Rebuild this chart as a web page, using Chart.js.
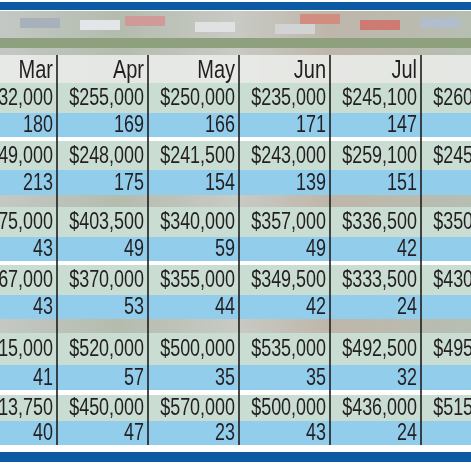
<!DOCTYPE html>
<html><head><meta charset="utf-8">
<script src="https://cdn.jsdelivr.net/npm/chart.js@4.4.1/dist/chart.umd.min.js"></script>
<style>html,body{margin:0;padding:0;background:#fff}#c{display:block}</style>
</head><body>
<div style="width:471px;height:471px"><canvas id="c"></canvas></div>
<script>
const months = ["Mar","Apr","May","Jun","Jul","Aug"];
const price1 = [232000,255000,250000,235000,245100,260000];
const count1 = [180,169,166,171,147,160];
const price2 = [249000,248000,241500,243000,259100,245000];
const count2 = [213,175,154,139,151,150];
const price3 = [375000,403500,340000,357000,336500,350000];
const count3 = [43,49,59,49,42,45];
const price4 = [367000,370000,355000,349500,333500,430000];
const count4 = [43,53,44,42,24,30];
const price5 = [515000,520000,500000,535000,492500,495000];
const count5 = [41,57,35,35,32,30];
const price6 = [513750,450000,570000,500000,436000,515000];
const count6 = [40,47,23,43,24,30];
const prices = [price1,price2,price3,price4,price5,price6];
const counts = [count1,count2,count3,count4,count5,count6];

const rowBands = [
  {p:[83,113],c:[113,137]},{p:[141,170],c:[170,195]},
  {p:[207,237],c:[237,261]},{p:[265,295],c:[295,319]},
  {p:[333,365],c:[365,390]},{p:[395,421],c:[421,445]}
];
const photoBands = [[11,83],[195,207],[319,333]];
const fmt = v => "$" + v.toLocaleString("en-US");

function cText(ctx, s, right, y, sx){
  ctx.save(); ctx.translate(right,y); ctx.scale(sx,1); ctx.fillText(s,0,0); ctx.restore();
}

const tablePlugin = {
  id:'table',
  afterDraw(chart){
    const ctx = chart.ctx, xs = chart.scales.x, ys = chart.scales.y;
    const Y = v => ys.getPixelForValue(v);
    const W = chart.width;
    ctx.save();
    ctx.fillStyle = '#0b5aa3'; ctx.fillRect(0,Y(2),W,Y(10)-Y(2));
    photoBands.forEach(([a,b])=>{
      const g = ctx.createLinearGradient(0,0,W,0);
      g.addColorStop(0,'#c3c8c4');g.addColorStop(0.25,'#b4bcae');g.addColorStop(0.5,'#c8cac4');
      g.addColorStop(0.7,'#bfb6aa');g.addColorStop(1,'#b6beb2');
      ctx.fillStyle=g; ctx.fillRect(0,Y(a),W,Y(b)-Y(a));
    });
    const roofs=[[20,18,'#a7b0bb'],[80,20,'#e3e6e8'],[125,16,'#cf9a98'],[195,22,'#dfe1e3'],[275,24,'#d2d3d5'],[300,14,'#d08d80'],[360,20,'#cc7a72'],[420,18,'#b1bdca']];
    roofs.forEach(([x,y,c])=>{ctx.fillStyle=c;ctx.fillRect(x,Y(y),40,Y(y+10)-Y(y));});
    ctx.fillStyle='#8fa07e';ctx.fillRect(0,Y(38),W,Y(48)-Y(38));
    ctx.fillStyle='rgba(236,238,236,0.85)'; ctx.fillRect(0,Y(55),W,Y(83)-Y(55));
    rowBands.forEach(rb=>{
      ctx.fillStyle='#c9ddd2'; ctx.fillRect(0,Y(rb.p[0]),W,Y(rb.p[1])-Y(rb.p[0]));
      ctx.fillStyle='#93cdec'; ctx.fillRect(0,Y(rb.c[0]),W,Y(rb.c[1])-Y(rb.c[0]));
    });
    ctx.fillStyle = '#0b5aa3'; ctx.fillRect(0,Y(452),W,Y(462)-Y(452));
    ctx.fillStyle='#231f20'; ctx.textAlign='right'; ctx.textBaseline='middle';
    months.forEach((m,i)=>{
      const right = xs.getPixelForValue(i+0.5)-4;
      ctx.font='25px "Liberation Sans", sans-serif';
      cText(ctx,m,right,Y(71),0.8);
      ctx.font='23px "Liberation Sans", sans-serif';
      rowBands.forEach((rb,r)=>{
        cText(ctx,fmt(prices[r][i]),right,Y((rb.p[0]+rb.p[1])/2+1),0.78);
        cText(ctx,String(counts[r][i]),right,Y((rb.c[0]+rb.c[1])/2+1),0.78);
      });
    });
    ctx.strokeStyle='#1e1e1e'; ctx.lineWidth=1.6;
    for(let i=0;i<months.length-1;i++){
      const x = Math.round(xs.getPixelForValue(i+0.5));
      ctx.beginPath(); ctx.moveTo(x,Y(55)); ctx.lineTo(x,Y(445)); ctx.stroke();
    }
    ctx.restore();
  }
};

new Chart(document.getElementById('c'),{
  type:'scatter',
  data:{datasets:[{data:[],showLine:false}]},
  options:{
    responsive:true, maintainAspectRatio:false, animation:false,
    layout:{padding:0},
    plugins:{legend:{display:false},tooltip:{enabled:false}},
    scales:{
      x:{type:'linear',display:false,min:-11.5/91,max:(471-11.5)/91},
      y:{type:'linear',display:false,min:0,max:471,reverse:true}
    }
  },
  plugins:[tablePlugin]
});
</script>
</body></html>
